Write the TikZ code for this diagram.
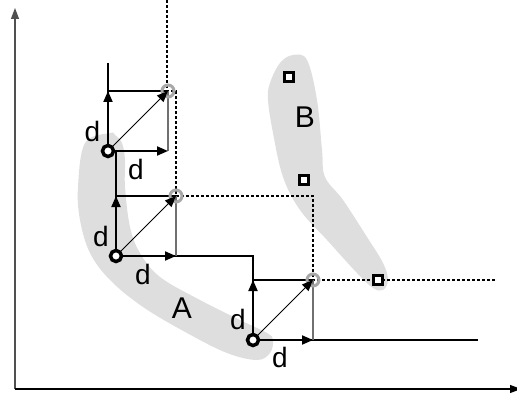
\documentclass[tikz,border=0pt]{standalone}
\usepackage{fontspec}
\setmainfont{Liberation Sans}
\usetikzlibrary{arrows.meta}
\definecolor{blob}{HTML}{DEDEDE}
\definecolor{domgray}{HTML}{A8A8A8}
\definecolor{sidegray}{HTML}{707070}
\definecolor{axisgray}{HTML}{505050}
\begin{document}
\begin{tikzpicture}[x=1pt,y=-1pt,
  axis/.style={line width=1.1pt,-{Triangle[length=11pt,width=8pt]}},
  stair/.style={line width=2pt},
  stepdash/.style={line width=1.8pt,dash pattern=on 3pt off 2pt},
  uparr/.style={line width=2pt,-{Triangle[length=11pt,width=9pt]}},
  diagarr/.style={line width=1pt,-{Triangle[length=11pt,width=9pt]}},
  topline/.style={line width=1.2pt},
  sideline/.style={line width=1.3pt,draw=sidegray},
  pt/.style={circle,draw,fill=white,line width=3.5pt,minimum size=11pt,inner sep=0pt},
  dom/.style={circle,draw=domgray,line width=3pt,minimum size=12pt,inner sep=0pt},
  sq/.style={rectangle,draw,fill=white,line width=3.3pt,minimum size=8.5pt,inner sep=0pt},
  lbl/.style={inner sep=0pt,font=\fontsize{28}{28}\selectfont},
  big/.style={inner sep=0pt,font=\fontsize{30}{30}\selectfont}]
\useasboundingbox (0,0) rectangle (517,401);

% shaded groups
\fill[blob] plot[smooth cycle,tension=0.6] coordinates {
  (110,133) (85,143) (78,187) (80,220) (90,253) (110,280) (143,307)
  (187,333) (227,353) (257,360) (270,353) (273,340) (267,333) (240,320)
  (200,300) (160,277) (140,253) (130,227) (125,187) (125,160) (122,143) (115,135)};
\fill[blob] plot[smooth cycle,tension=0.6] coordinates {
  (293,55) (307,60) (317,100) (322,150) (325,177) (343,200) (367,237)
  (383,263) (388,280) (383,290) (373,288) (357,273) (327,240) (300,210)
  (283,177) (273,133) (268,100) (270,83) (280,63)};

% axes
\coordinate (o) at (15,389);
\coordinate (ytop) at (15,8);
\coordinate (xend) at (521,389);
\draw[axis,draw=axisgray,fill=black] (o) -- (ytop);
\draw[axis] (o) -- (xend);

% reference points and their dominated corners
\coordinate (p1) at (108,151);
\coordinate (p2) at (116,256);
\coordinate (p3) at (253,340);
\coordinate (g1) at (168,91);
\coordinate (g2) at (176,196);
\coordinate (g3) at (313,280);
\coordinate (stairtop) at (108,63);
\coordinate (stairend) at (478,340);
\coordinate (dashtop) at (167,0);
\coordinate (dashend) at (495,280);

% dashed boundary through the dominated corners
\draw[stepdash] (dashtop) -- (dashtop |- g1) -- (g2 |- g1) -- (g2)
  -- (g3 |- g2) -- (g3) -- (dashend);

% solid boundary through the points
\draw[stair] (stairtop) -- (p1) -- (p2 |- p1) -- (p2) -- (p3 |- p2)
  -- (p3) -- (stairend);

% squares spanned by d
\foreach \p/\g in {p1/g1,p2/g2,p3/g3}{
  \draw[topline] (\p |- \g) -- (\g);
  \draw[sideline] (\g |- \p) -- (\g);
}

% markers
\node[dom] (c1) at (g1) {};
\node[dom] (c2) at (g2) {};
\node[dom] (c3) at (g3) {};
\node[pt] (a1) at (p1) {};
\node[pt] (a2) at (p2) {};
\node[pt] (a3) at (p3) {};
\node[sq] (b1) at (289,77) {};
\node[sq] (b2) at (304,180) {};
\node[sq] (b3) at (378,280) {};

% d-steps
\foreach \a/\g in {a1/g1,a2/g2,a3/g3}{
  \draw[uparr] (\a) -- (\a |- \g);
  \draw[uparr] (\a) -- (\g |- \a);
  \draw[diagarr] (\a) -- (\g);
}

% labels
\node[lbl] (l1) at (92.5,131) {d};
\node[lbl] (l2) at (136,169) {d};
\node[lbl] (l3) at (101,236) {d};
\node[lbl] (l4) at (143,274) {d};
\node[lbl] (l5) at (238,319) {d};
\node[lbl] (l6) at (280,357) {d};
\node[big] (la) at (182,308) {A};
\node[big] (lb) at (305,117) {B};
\end{tikzpicture}
\end{document}
